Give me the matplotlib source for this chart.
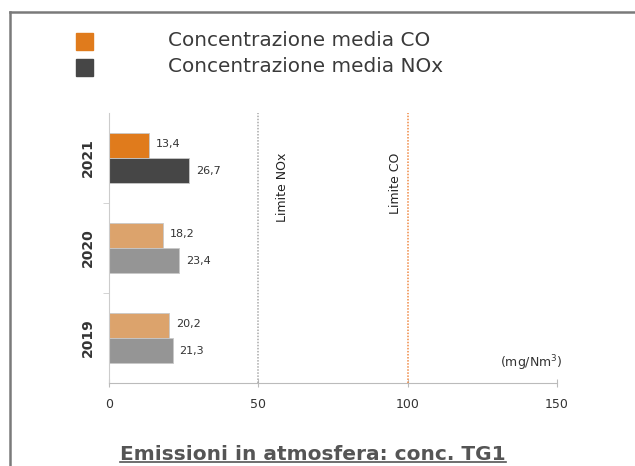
import numpy as np
import matplotlib.pyplot as plt
from matplotlib.lines import Line2D
from matplotlib.patches import Rectangle

years = ['2019', '2020', '2021']
co_values = [20.2, 18.2, 13.4]
nox_values = [21.3, 23.4, 26.7]
co_colors = ['#DCA36C', '#DCA36C', '#E07B1C']
nox_colors = ['#959595', '#959595', '#464646']
limit_nox = 50
limit_co = 100
legend_labels = ['Concentrazione media CO', 'Concentrazione media NOx']

fig = plt.figure(figsize=(6.35, 4.66), dpi=100)
ax = fig.add_axes([109 / 635, 83 / 466, 448 / 635, 270 / 466])

y = np.arange(len(years))
h = 0.28
ax.barh(y + h / 2, co_values, height=h, color=co_colors, edgecolor='#c8c8c8', linewidth=0.6)
ax.barh(y - h / 2, nox_values, height=h, color=nox_colors, edgecolor='#c8c8c8', linewidth=0.6)

# value labels
for yi, v in zip(y, co_values):
    ax.annotate(f'{v:.1f}'.replace('.', ','), (v, yi + h / 2), xytext=(5, 1),
                textcoords='offset points', va='center', fontsize=8, color='#333333')
for yi, v in zip(y, nox_values):
    ax.annotate(f'{v:.1f}'.replace('.', ','), (v, yi - h / 2), xytext=(5, 0),
                textcoords='offset points', va='center', fontsize=8, color='#333333')

# limit lines
ax.axvline(limit_nox, color='#aaaaaa', linestyle=(0, (1, 1)), linewidth=1.1)
ax.axvline(limit_co, color='#F08A45', linestyle=(0, (1, 1)), linewidth=1.1)
ax.text(limit_nox + 8, 1.67, 'Limite NOx', rotation=90, ha='center', va='center',
        fontsize=9, color='#222222')
ax.text(limit_co - 4, 1.72, 'Limite CO', rotation=90, ha='center', va='center',
        fontsize=9, color='#222222')
ax.text(152, -0.28, '(mg/Nm$^3$)', ha='right', va='center', fontsize=9, color='#333333')

ax.set_xlim(0, 150)
ax.set_ylim(-0.5, 2.5)
ax.set_xticks([0, 50, 100, 150])
ax.tick_params(axis='x', direction='inout', length=6, color='#bbbbbb', labelsize=9,
               labelcolor='#333333', pad=8)
ax.set_yticks(y)
ax.set_yticklabels(years, rotation=90, va='center', fontweight='bold', fontsize=10,
                   color='#333333')
ax.tick_params(axis='y', length=0, pad=10)
ax.set_yticks([0.5, 1.5], minor=True)
ax.tick_params(axis='y', which='minor', length=4, color='#cccccc')
for s in ['top', 'right']:
    ax.spines[s].set_visible(False)
ax.spines['left'].set_color('#cccccc')
ax.spines['bottom'].set_color('#bbbbbb')

# legend
for i, (lab, c) in enumerate(zip(legend_labels, [co_colors[2], nox_colors[2]])):
    yy = 1 - (41 + i * 26) / 466
    fig.patches.append(Rectangle((76 / 635, yy - 8.5 / 466), 17 / 635, 17 / 466,
                                 transform=fig.transFigure, color=c, zorder=3))
    fig.text(168 / 635, yy, lab, fontsize=14.4, color='#3a3a3a', va='center')

# frame
fig.add_artist(Line2D([10 / 635, 10 / 635], [0, 1 - 12 / 466], color='#7a7a7a', linewidth=1.8))
fig.add_artist(Line2D([10 / 635, 1], [1 - 12 / 466, 1 - 12 / 466], color='#7a7a7a', linewidth=1.8))

# underlined title
t = fig.text(313 / 635, 1 - 454 / 466, 'Emissioni in atmosfera: conc. TG1', fontsize=14.5,
             fontweight='bold', color='#555555', ha='center', va='center')
fig.canvas.draw()
bb = t.get_window_extent().transformed(fig.transFigure.inverted())
fig.add_artist(Line2D([bb.x0, bb.x1], [bb.y0 + 0.004, bb.y0 + 0.004], color='#555555', linewidth=1.2))

fig.savefig('out.png', dpi=100)
